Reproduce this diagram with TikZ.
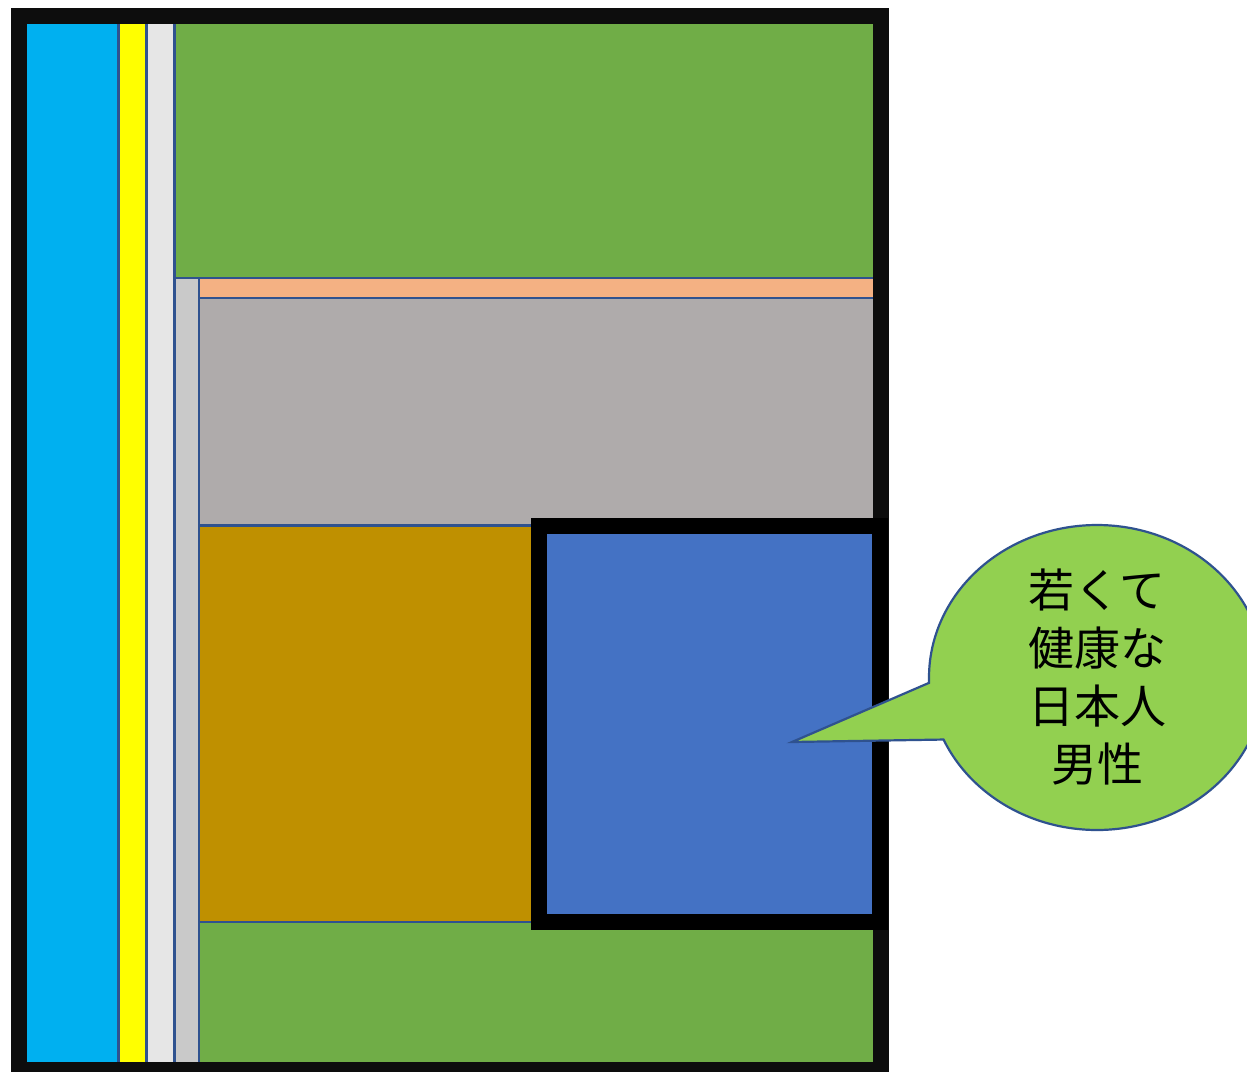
\documentclass[tikz,border=0pt]{standalone}
\usepackage{fontspec}
\newfontfamily\cjk{Noto Sans CJK JP}
\definecolor{edge}{HTML}{2F528F}
\definecolor{frameblack}{HTML}{0D0D0D}
\definecolor{skyblue}{HTML}{00B0F0}
\definecolor{yel}{HTML}{FFFF00}
\definecolor{lgrey}{HTML}{E6E6E6}
\definecolor{mgrey}{HTML}{C9C9C9}
\definecolor{dgrey}{HTML}{AFABAB}
\definecolor{grn}{HTML}{70AD47}
\definecolor{orng}{HTML}{F4B183}
\definecolor{gold}{HTML}{BF9000}
\definecolor{boxblue}{HTML}{4472C4}
\definecolor{callgreen}{HTML}{92D050}
\begin{document}
\begin{tikzpicture}[x=1pt,y=-1pt,
  part/.style={draw=edge,line width=2.4pt},
  bigframe/.style={draw=frameblack,line width=16pt},
  boxframe/.style={draw=black,line width=16pt},
  calloutshape/.style={draw=edge,line width=2.2pt,fill=callgreen,line join=miter},
  calltext/.style={align=center,font=\cjk\fontsize{46}{58}\selectfont,text=black,inner sep=0pt}]
\useasboundingbox (0,0) rectangle (1247,1071);
\fill[white] (0,0) rectangle (1247,1071);
% strips
\path[part,fill=skyblue] (20,16) rectangle (118.5,1070);
\path[part,fill=yel] (118.5,16) rectangle (146.5,1070);
\path[part,fill=lgrey] (146.5,16) rectangle (174.5,1070);
\path[part,fill=grn] (174.5,16) rectangle (881,278);
\path[part,fill=mgrey] (174.5,278) rectangle (199,1070);
\path[part,fill=orng] (199,278) rectangle (881,298);
\path[part,fill=dgrey] (199,298) rectangle (881,525.5);
\path[part,fill=gold] (199,525.5) rectangle (539,922);
\path[part,fill=grn] (199,922) rectangle (881,1070);
% outer frame
\path[bigframe] (19,16) rectangle (881,1070);
% blue box
\node[boxframe,fill=boxblue,minimum width=341pt,minimum height=396pt,inner sep=0pt,outer sep=0pt] (box) at (709.5,724) {};
% callout
\coordinate (tip) at (792,742);
\coordinate (bubble) at (1097,677.5);
\path[calloutshape] (tip) -- plot[domain=178:516,samples=160,smooth] ({1097+168*cos(\x)},{677.5+152.5*sin(\x)}) -- cycle;
\node[calltext] (label) at (bubble) {若くて\\健康な\\日本人\\男性};
\end{tikzpicture}
\end{document}
